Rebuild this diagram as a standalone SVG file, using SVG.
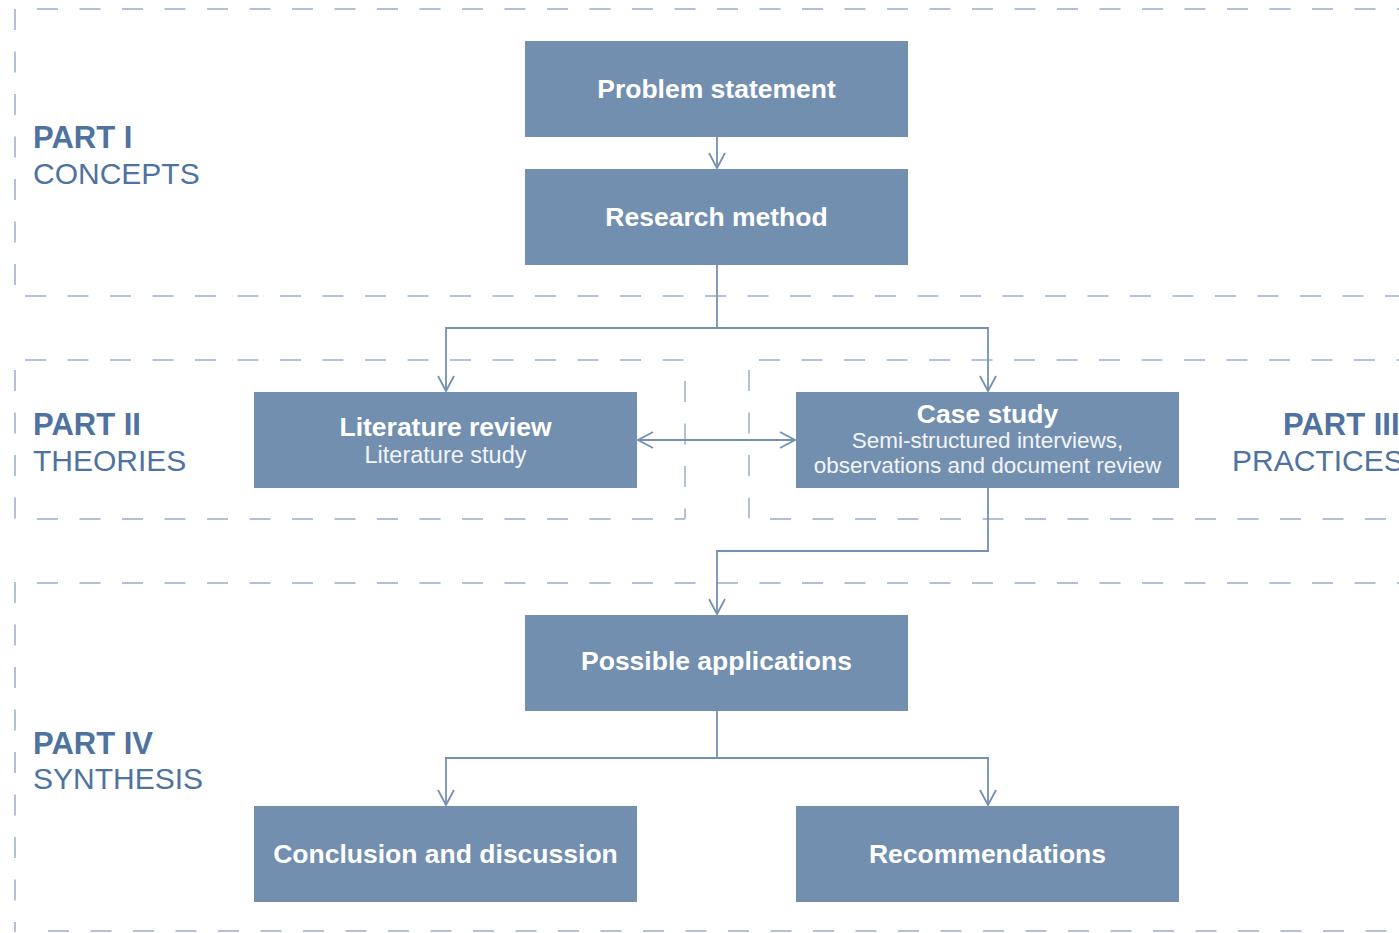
<svg xmlns="http://www.w3.org/2000/svg" width="1399" height="933" viewBox="0 0 1399 933">
<defs>
<style>
.dash{stroke:#b2c1d5;stroke-width:2;stroke-dasharray:21 21.5;fill:none}
.box{fill:#728fb0}
.conn{stroke:#7590b2;stroke-width:1.8;fill:none}
.bt{font-family:"Liberation Sans",Arial,Helvetica,sans-serif;font-weight:bold;font-size:26.5px;fill:#ffffff;text-anchor:middle}
.st{font-family:"Liberation Sans",Arial,Helvetica,sans-serif;font-size:22.5px;fill:#f2f5f9;text-anchor:middle}
.pb{font-family:"Liberation Sans",Arial,Helvetica,sans-serif;font-weight:bold;font-size:31px;fill:#4f73a0}
.pl{font-family:"Liberation Sans",Arial,Helvetica,sans-serif;font-size:30px;fill:#4f73a0}
</style>
<marker id="arr" markerUnits="userSpaceOnUse" markerWidth="20" markerHeight="20" viewBox="-17 -10 20 20" refX="0" refY="0" orient="auto-start-reverse">
<path d="M -15 -8 L 0 0 L -15 8" fill="none" stroke="#7590b2" stroke-width="1.8"/>
</marker>
</defs>

<g id="sections">
<line class="dash" x1="37" y1="9" x2="1399" y2="9"/>
<line class="dash" x1="15" y1="9" x2="15" y2="296"/>
<line class="dash" x1="25" y1="296" x2="1399" y2="296"/>

<line class="dash" x1="25" y1="360" x2="685" y2="360"/>
<line class="dash" x1="15" y1="370" x2="15" y2="519"/>
<line class="dash" x1="37" y1="519" x2="685" y2="519"/>
<line class="dash" x1="685" y1="381" x2="685" y2="519"/>

<line class="dash" x1="759" y1="360" x2="1399" y2="360"/>
<line class="dash" x1="749" y1="370" x2="749" y2="519"/>
<line class="dash" x1="770" y1="519" x2="1399" y2="519"/>

<line class="dash" x1="37" y1="583" x2="1399" y2="583"/>
<line class="dash" x1="15" y1="582" x2="15" y2="932"/>
<line class="dash" x1="48" y1="931" x2="1399" y2="931"/>
</g>

<g id="labels">
<text class="pb" x="33" y="148">PART I</text>
<text class="pl" x="33" y="184">CONCEPTS</text>
<text class="pb" x="33" y="435">PART II</text>
<text class="pl" x="33" y="471">THEORIES</text>
<text class="pb" x="1283" y="435">PART III</text>
<text class="pl" x="1232" y="471">PRACTICES</text>
<text class="pb" x="33" y="754">PART IV</text>
<text class="pl" x="33" y="789">SYNTHESIS</text>
</g>

<g id="connectors">
<line class="conn" x1="717" y1="137" x2="717" y2="168" marker-end="url(#arr)"/>
<polyline class="conn" points="717,265 717,328"/>
<polyline class="conn" points="717,328 446,328 446,391" marker-end="url(#arr)"/>
<polyline class="conn" points="717,328 988,328 988,391" marker-end="url(#arr)"/>
<line class="conn" x1="638" y1="440" x2="795" y2="440" marker-start="url(#arr)" marker-end="url(#arr)"/>
<polyline class="conn" points="988,488 988,551 717,551 717,614" marker-end="url(#arr)"/>
<polyline class="conn" points="717,711 717,758"/>
<polyline class="conn" points="717,758 446,758 446,805" marker-end="url(#arr)"/>
<polyline class="conn" points="717,758 988,758 988,805" marker-end="url(#arr)"/>
</g>

<g id="problem-statement">
<rect class="box" x="525" y="41" width="383" height="96"/>
<text class="bt" x="716.5" y="98">Problem statement</text>
</g>
<g id="research-method">
<rect class="box" x="525" y="169" width="383" height="96"/>
<text class="bt" x="716.5" y="226">Research method</text>
</g>
<g id="literature-review">
<rect class="box" x="254" y="392" width="383" height="96"/>
<text class="bt" x="445.5" y="436">Literature review</text>
<text class="st" x="445.5" y="463" style="font-size:23.5px">Literature study</text>
</g>
<g id="case-study">
<rect class="box" x="796" y="392" width="383" height="96"/>
<text class="bt" x="987.5" y="423">Case study</text>
<text class="st" x="987.5" y="448">Semi-structured interviews,</text>
<text class="st" x="987.5" y="473">observations and document review</text>
</g>
<g id="possible-applications">
<rect class="box" x="525" y="615" width="383" height="96"/>
<text class="bt" x="716.5" y="670">Possible applications</text>
</g>
<g id="conclusion-and-discussion">
<rect class="box" x="254" y="806" width="383" height="96"/>
<text class="bt" x="445.5" y="863">Conclusion and discussion</text>
</g>
<g id="recommendations">
<rect class="box" x="796" y="806" width="383" height="96"/>
<text class="bt" x="987.5" y="863">Recommendations</text>
</g>
</svg>
